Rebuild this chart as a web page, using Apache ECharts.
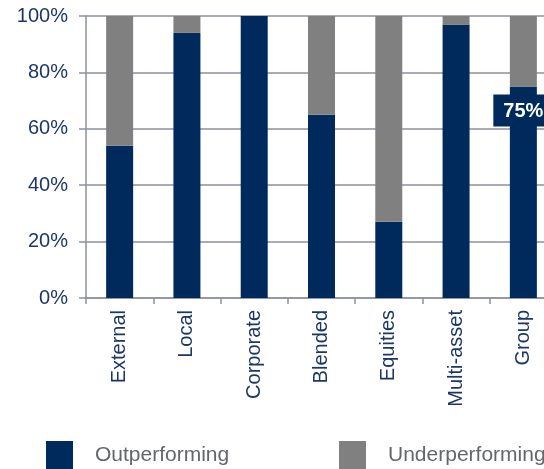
<!DOCTYPE html>
<html>
<head>
<meta charset="utf-8">
<script src="https://cdn.jsdelivr.net/npm/echarts@6/dist/echarts.min.js"></script>
<style>html,body{margin:0;padding:0;background:#fff}#c{width:544px;height:469px}</style>
</head>
<body>
<div id="c"></div>
<script>
var categories = ['External', 'Local', 'Corporate', 'Blended', 'Equities', 'Multi-asset', 'Group'];
var outperforming = [54, 94, 100, 65, 27, 97, 75];
var underperforming = [46, 6, 0, 35, 73, 3, 25];
var yTicks = [0, 20, 40, 60, 80, 100];
var labelledIndex = 6;

var NAVY = '#002a5c';
var GREY = '#808080';
var AXIS = '#8c919c';
var TXT = '#1c3766';

function legendAt(left, name) {
  return {
    left: left, top: 441, padding: 0,
    itemWidth: 27, itemHeight: 28,
    icon: 'rect',
    textStyle: {fontFamily: 'Liberation Sans, Arial', fontSize: 21, color: '#63666b', padding: [0, 0, 0, 17]},
    data: [name]
  };
}

var chart = echarts.init(document.getElementById('c'), null, {renderer: 'canvas'});
chart.setOption({
  animation: false,
  backgroundColor: '#ffffff',
  grid: {left: 86, top: 16, right: -13, bottom: 171, containLabel: false, outerBoundsMode: 'none'},
  legend: [legendAt(46, 'Outperforming'), legendAt(339, 'Underperforming')],
  xAxis: {
    type: 'category',
    data: categories,
    axisLine: {lineStyle: {color: AXIS, width: 1.5}},
    axisTick: {show: true, length: 6, alignWithLabel: false, lineStyle: {color: AXIS, width: 1.5}},
    axisLabel: {rotate: 90, margin: 12, fontFamily: 'Liberation Sans, Arial', fontSize: 20, color: TXT, interval: 0}
  },
  yAxis: {
    type: 'value', min: yTicks[0], max: yTicks[yTicks.length - 1], interval: 20,
    axisLine: {show: true, lineStyle: {color: AXIS, width: 1.5}},
    axisTick: {show: true, length: 7, lineStyle: {color: AXIS, width: 1.5}},
    splitLine: {show: true, lineStyle: {color: AXIS, width: 1.5}},
    axisLabel: {margin: 18, fontFamily: 'Liberation Sans, Arial', fontSize: 20, color: TXT, formatter: '{value}%'}
  },
  series: [
    {
      name: 'Outperforming', type: 'bar', stack: 's', barWidth: 27,
      itemStyle: {color: NAVY},
      data: outperforming.map(function (v, i) {
        if (i !== labelledIndex) return v;
        return {
          value: v,
          label: {
            show: true, position: 'insideTop', distance: 8,
            formatter: '{c}%', color: '#ffffff', fontWeight: 'bold',
            fontFamily: 'Liberation Sans, Arial', fontSize: 20,
            backgroundColor: NAVY, padding: [7, 10, 5, 10]
          }
        };
      }),
      z: 2
    },
    {
      name: 'Underperforming', type: 'bar', stack: 's', barWidth: 27,
      itemStyle: {color: GREY},
      data: underperforming,
      z: 2
    }
  ]
});
</script>
</body>
</html>
